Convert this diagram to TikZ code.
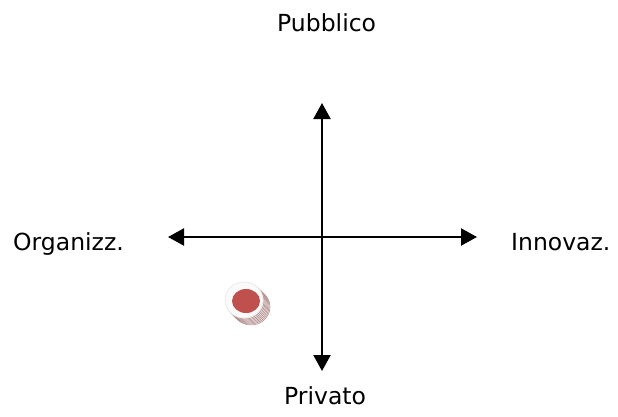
\documentclass[tikz,border=0pt]{standalone}
\usepackage{fontspec}
\setmainfont{DejaVu Sans}
\usetikzlibrary{arrows.meta}
\definecolor{discred}{HTML}{C0504D}
\definecolor{discedge}{HTML}{B08888}
\definecolor{discside}{HTML}{EFE6E6}
\tikzset{
  axis/.style={line width=2.2pt, {Triangle[length=16pt,width=17pt]}-{Triangle[length=16pt,width=17pt]}},
  lbl/.style={anchor=base west, inner sep=0pt, font=\fontsize{23.5}{28}\selectfont, text=black}
}
\begin{document}
\begin{tikzpicture}[x=1pt,y=-1pt]
\useasboundingbox (0,0) rectangle (618,416);
% axes
\coordinate (top) at (322,103);
\coordinate (bot) at (322,371);
\coordinate (lft) at (168,237);
\coordinate (rgt) at (477,237);
\draw[axis] (bot) -- (top);
\draw[axis] (lft) -- (rgt);
% labels
\node[lbl] (pub) at (277,31.5) {Pubblico};
\node[lbl] (org) at (13,250) {Organizz.};
\node[lbl] (inn) at (511,250) {Innovaz.};
\node[lbl] (pri) at (284,404) {Privato};
% disc
\foreach \d in {7,6,5,4,3,2,1} {
  \filldraw[fill=discside, draw=discedge, line width=0.5pt] (244+\d,300+\d) ellipse [x radius=19, y radius=18];
}
\filldraw[fill=white!96!gray, draw=white!82!gray, line width=0.7pt] (244,300) ellipse [x radius=19, y radius=18];
\fill[discred] (246,301) ellipse [x radius=14, y radius=12];
\end{tikzpicture}
\end{document}
